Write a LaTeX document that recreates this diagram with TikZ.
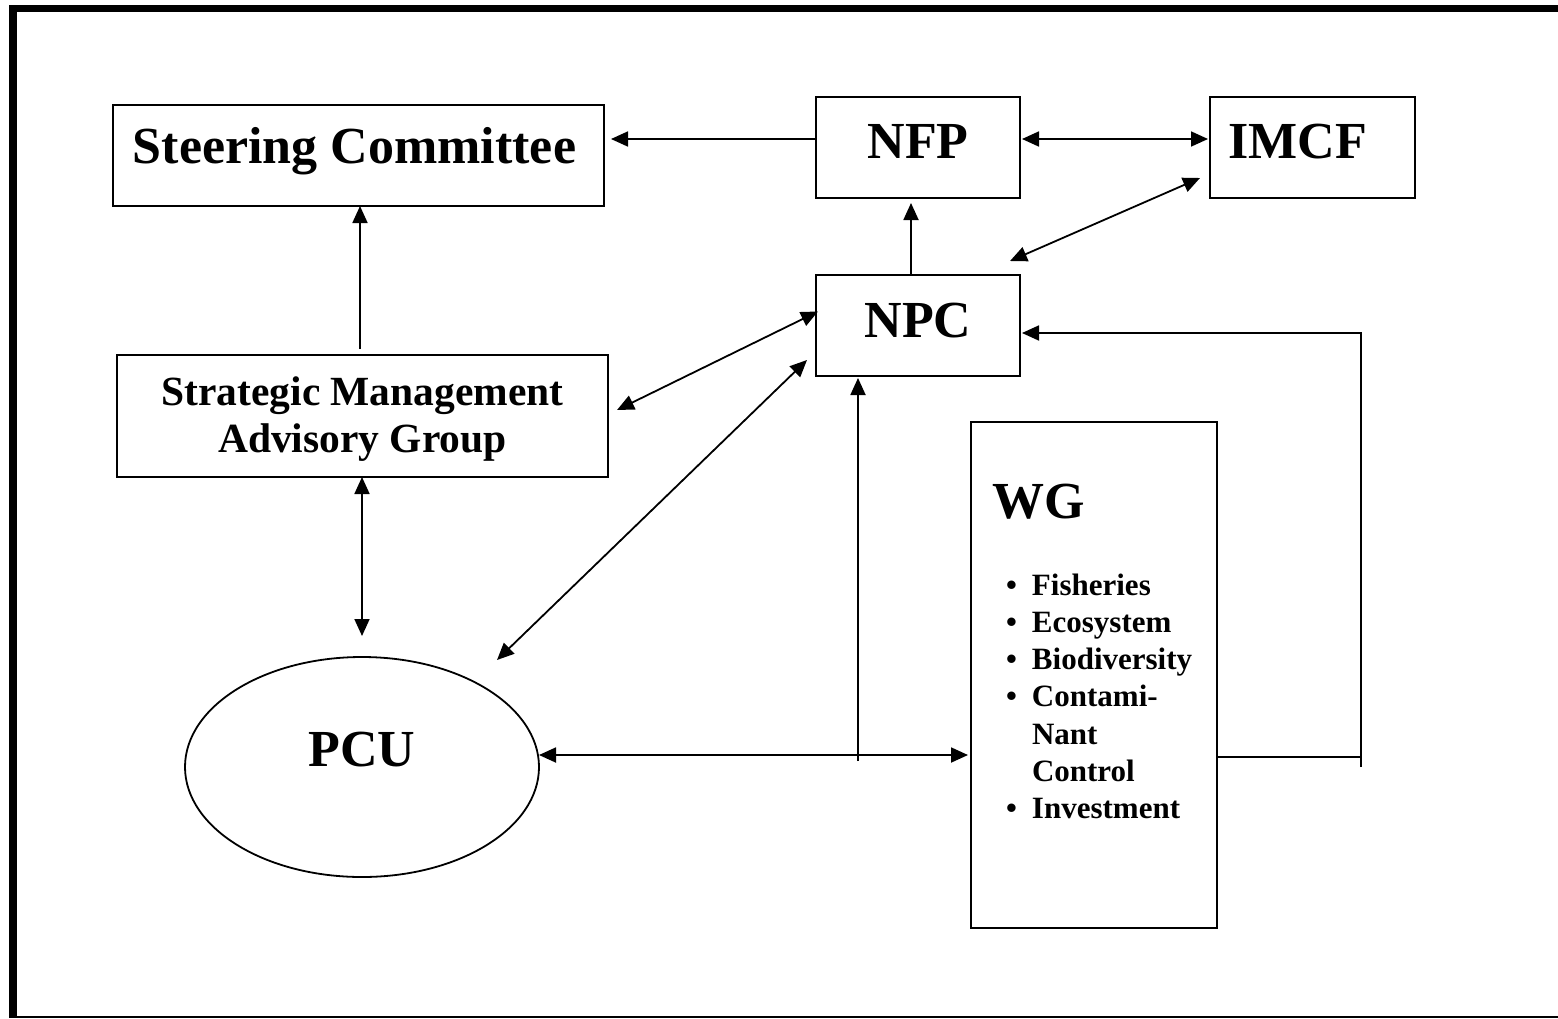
\documentclass[tikz,border=0pt]{standalone}
\usepackage{fontspec}
\setmainfont{Liberation Serif}
\usetikzlibrary{arrows.meta,shapes.geometric}

\begin{document}
\begin{tikzpicture}[x=1pt,y=-1pt,inner sep=0pt,outer sep=0pt,line width=1.8pt,
>={Triangle[length=17pt,width=15pt]},
orgbox/.style={draw,rectangle,inner sep=0pt,line width=1.8pt,font=\fontsize{52}{60}\selectfont\bfseries},
smagbox/.style={draw,rectangle,inner sep=0pt,line width=1.8pt,align=center,font=\fontsize{41.5}{47}\selectfont\bfseries}]
\useasboundingbox (0,0) rectangle (1558,1018);
% page frame
\draw[line width=8pt] (12.5,5) -- (12.5,1018);
\draw[line width=7pt] (9,8.5) -- (1558,8.5);
\draw[line width=2pt] (9,1016.5) -- (1558,1016.5);

\draw (358.5,155.5) node[orgbox,minimum width=491pt,minimum height=101pt,text height=36pt,text depth=21pt] (steer) {Steering Committee\hspace*{8pt}};
\draw (918,147.5) node[orgbox,minimum width=204pt,minimum height=101pt,text height=36pt,text depth=15pt] (nfp) {NFP};
\draw (1312.5,147.5) node[orgbox,minimum width=205pt,minimum height=101pt,text height=36pt,text depth=15pt] (imcf) {IMCF\hspace*{30pt}};
\draw (918,325.5) node[orgbox,minimum width=204pt,minimum height=101pt,text height=36pt,text depth=13pt] (npc) {NPC};
\draw (362.5,416) node[smagbox,minimum width=491pt,minimum height=122pt,text depth=3pt] (smag) {Strategic Management\\Advisory Group};
\draw (362,767) node[draw,ellipse,minimum width=354pt,minimum height=220pt,font=\fontsize{52}{60}\selectfont\bfseries,text height=36pt,text depth=38pt] (pcu) {PCU};
\draw (1094,675) node[draw,rectangle] (wg) {\begin{minipage}[c][506pt][t]{246pt}
\fontsize{52}{52}\selectfont\bfseries\hspace*{21pt}\rule{0pt}{96pt}WG\par
\vspace{39.7pt}
\fontsize{31}{37.3}\selectfont\bfseries
\hspace*{35pt}\makebox[26pt][l]{•}Fisheries\\
\hspace*{35pt}\makebox[26pt][l]{•}Ecosystem\\
\hspace*{35pt}\makebox[26pt][l]{•}Biodiversity\\
\hspace*{35pt}\makebox[26pt][l]{•}Contami-\\
\hspace*{61pt}Nant\\
\hspace*{61pt}Control\\
\hspace*{35pt}\makebox[26pt][l]{•}Investment\par
\end{minipage}};

\coordinate (jn) at (858,761);
\coordinate (fbtop) at (1361,333);
\coordinate (fbbot) at (1361,767);

\draw[->,shorten >=7pt] (nfp.west |- 0,139) -- (steer.east |- 0,139);
\draw[<->,shorten <=2pt,shorten >=2pt] (nfp.east |- 0,139) -- (imcf.west |- 0,139);
\draw[->,shorten >=5pt] (npc.north -| 911,0) -- (nfp.south -| 911,0);
\draw[<->] ([shift={(-10,-14)}]npc.north east) -- ([shift={(-10,-20)}]imcf.south west);
\draw[->,shorten <=6pt] (smag.north -| 360,0) -- (steer.south -| 360,0);
\draw[<->] ([shift={(9,-6)}]smag.east) -- ([shift={(2,-14)}]npc.west);
\draw[<->] (smag.south -| 362,0) -- ([shift={(0,-21)}]pcu.north);
\draw[<->] ([shift={(135,-107)}]pcu.center) -- ([shift={(-9,-16)}]npc.south west);
\draw[<->,shorten >=3pt] (pcu.east |- 0,755) -- (wg.west |- 0,755);
\draw[->,shorten >=2pt] (jn) -- (npc.south -| jn);
\draw (wg.east |- 0,757) -- (fbbot |- 0,757);
\draw[->,shorten >=2pt] (fbbot) -- (fbtop) -- (npc.east |- fbtop);
\end{tikzpicture}
\end{document}
